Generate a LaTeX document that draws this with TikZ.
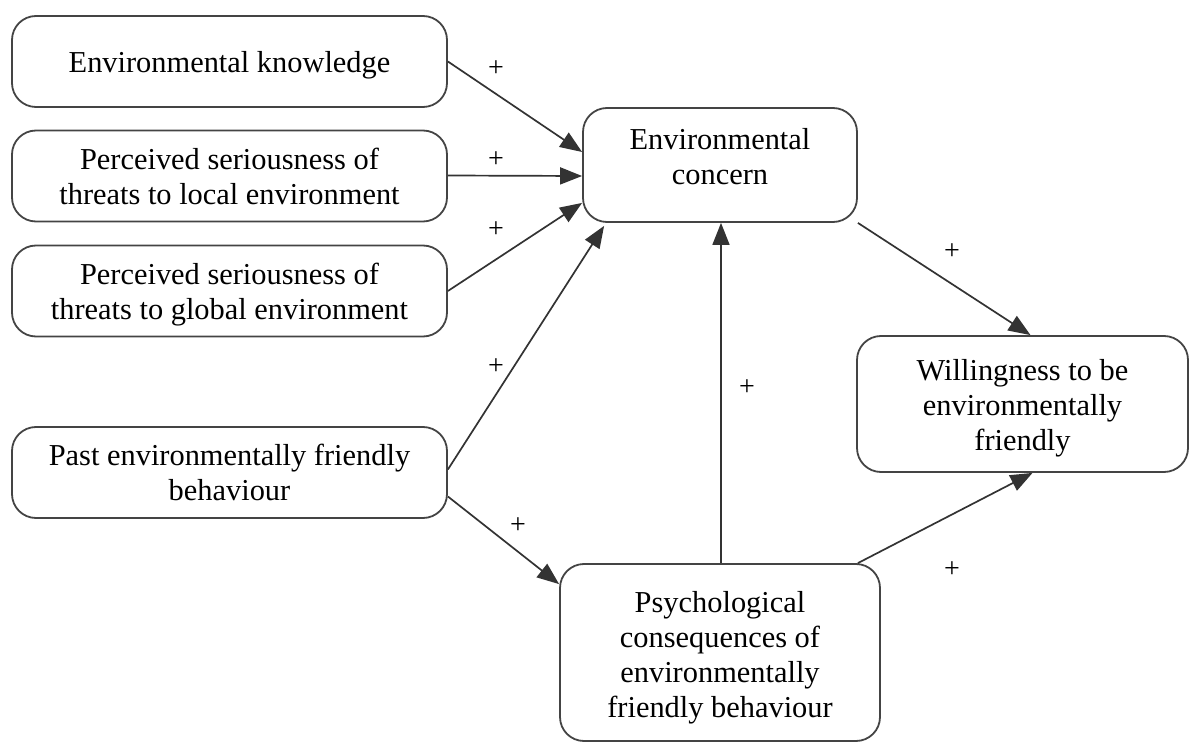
\documentclass[tikz,border=0pt]{standalone}
\usepackage{fontspec}
\setmainfont{Liberation Serif}
\usetikzlibrary{arrows.meta}
\definecolor{boxline}{HTML}{444444}
\definecolor{arrline}{HTML}{333333}
\newcommand{\shiftedtext}[2]{\raisebox{#1}[\height][\depth]{\begin{tabular}{@{}c@{}}#2\end{tabular}}}
\begin{document}
\begin{tikzpicture}[x=1pt,y=-1pt,
  box/.style={draw=boxline, line width=1.8pt, rounded corners=24pt, align=center,
    font=\fontsize{30.4}{35}\selectfont, inner sep=0pt},
  conn/.style={draw=arrline, line width=1.7pt, -{Triangle[length=22pt,width=17pt]}},
  plus/.style={font=\fontsize{28}{30}\selectfont, inner sep=0pt}]
\useasboundingbox (0,0) rectangle (1197,743);
\node[box, minimum width=435pt, minimum height=91pt] (ek) at (229.5,61.5) {\shiftedtext{-4pt}{Environmental knowledge}};
\node[box, minimum width=435pt, minimum height=91pt] (loc) at (229.5,176) {\shiftedtext{-4pt}{Perceived seriousness of\\threats to local environment}};
\node[box, minimum width=435pt, minimum height=91pt] (glob) at (229.5,291) {\shiftedtext{-4pt}{Perceived seriousness of\\threats to global environment}};
\node[box, minimum width=435pt, minimum height=91pt] (past) at (229.5,472.5) {\shiftedtext{-3pt}{Past environmentally friendly\\behaviour}};
\node[box, minimum width=274pt, minimum height=114pt] (ec) at (720,165) {\shiftedtext{5pt}{Environmental\\concern}};
\node[box, minimum width=331pt, minimum height=136pt] (will) at (1022.5,404) {\shiftedtext{-4pt}{Willingness to be\\environmentally\\friendly}};
\node[box, minimum width=320pt, minimum height=177pt] (psy) at (720,652.5) {\shiftedtext{-5pt}{Psychological\\consequences of\\environmentally\\friendly behaviour}};
\draw[conn] (ek.east) -- ([yshift=13pt]ec.west);
\draw[conn] ([yshift=0.5pt]loc.east) -- ([yshift=-11pt]ec.west);
\draw[conn] (glob.east) -- ([yshift=20pt]ec.south west);
\draw[conn] ([yshift=3pt]past.east) -- ([xshift=22pt,yshift=-3pt]ec.south west);
\draw[conn] ([yshift=-24pt]past.east) -- ([yshift=-21pt]psy.north west);
\draw[conn] ([xshift=1pt]psy.north) -- ([xshift=1pt]ec.south);
\draw[conn] (ec.south east) -- ([xshift=8pt]will.north);
\draw[conn] ([xshift=-23pt]psy.north east) -- ([xshift=10pt]will.south);
\node[plus] (p1) at (496,69) {+};
\node[plus] (p2) at (496,160) {+};
\node[plus] (p3) at (496,230) {+};
\node[plus] (p4) at (496,367) {+};
\node[plus] (p5) at (518,526) {+};
\node[plus] (p6) at (747,388) {+};
\node[plus] (p7) at (952,252) {+};
\node[plus] (p8) at (952,570) {+};
\end{tikzpicture}
\end{document}
